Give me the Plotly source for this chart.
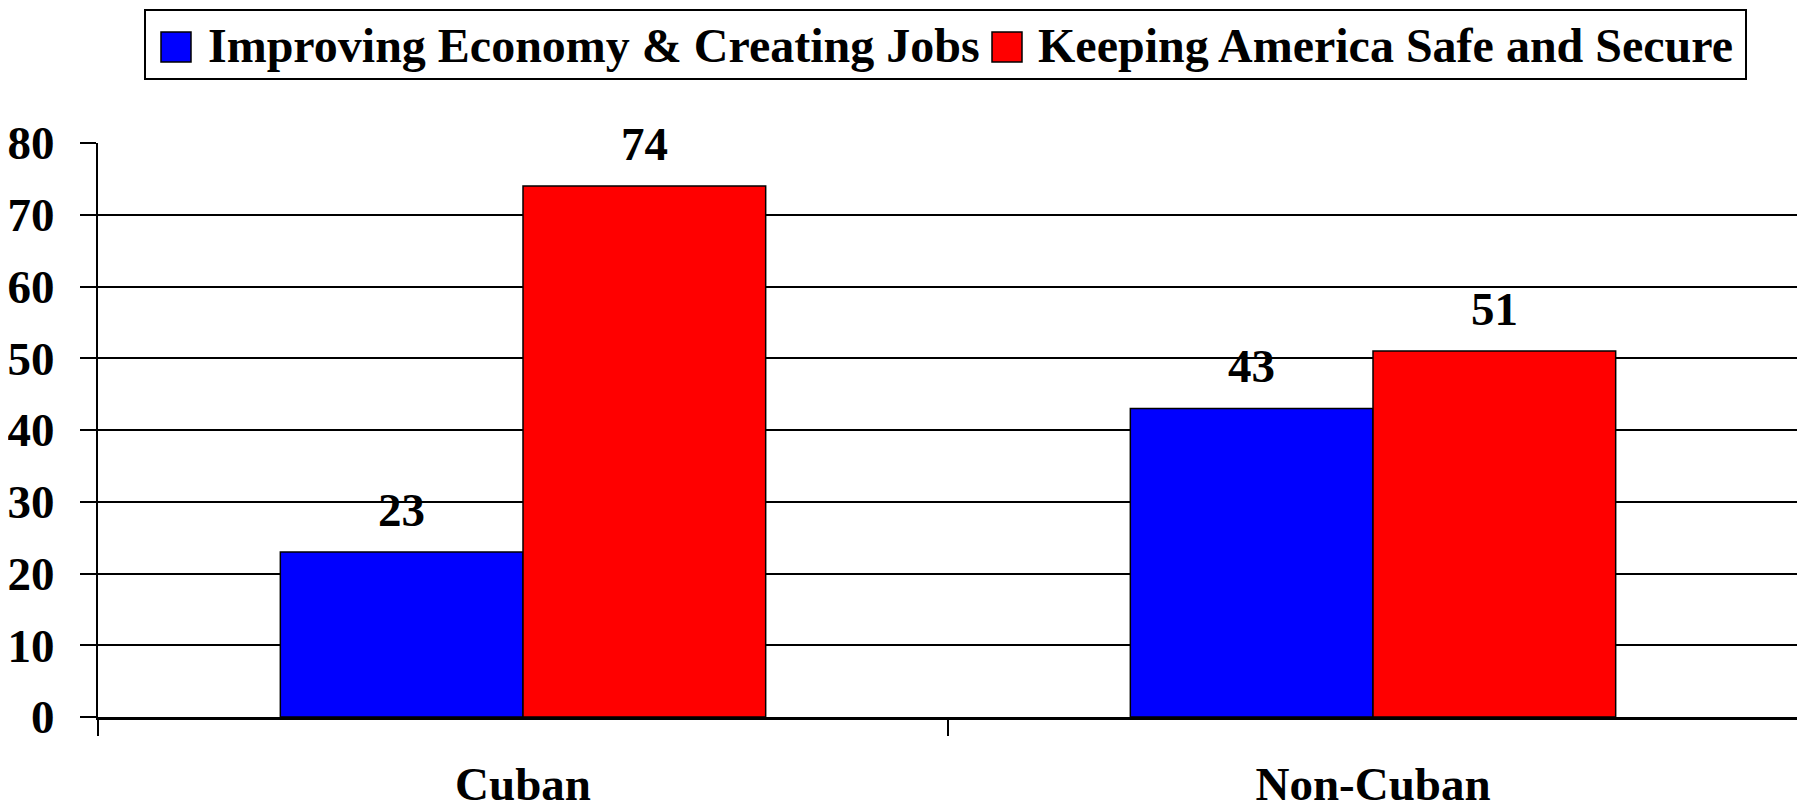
import plotly.graph_objects as go

# ---- data ----
categories = ["Cuban", "Non-Cuban"]
series_names = ["Improving Economy & Creating Jobs", "Keeping America Safe and Secure"]
economy_jobs = [23, 43]
safe_secure = [74, 51]
y_ticks = [0, 10, 20, 30, 40, 50, 60, 70, 80]

colors = ["#0000FF", "#FF0000"]
FONT = "Liberation Serif"
FS = 47
FS_LEG = 48

# the page body has an 8px margin, so the figure is drawn 8px smaller
BODY = 8
W, H = 1805 - BODY, 812 - BODY
ML, MR, MT, MB = 98 - BODY, 7, 143 - BODY, 95
PW = W - ML - MR
PH = H - MT - MB


def px_x(px):
    """page pixel x -> paper coordinate"""
    return (px - BODY - ML) / PW


def px_y(py):
    """page pixel y -> paper coordinate"""
    return (H - MB - (py - BODY)) / PH


BARGAP = 0.429
half = (1 - BARGAP) / 4  # offset of each bar centre from the category centre

fig = go.Figure()
for name, vals, col in zip(series_names, [economy_jobs, safe_secure], colors):
    fig.add_trace(go.Bar(
        name=name, x=categories, y=vals,
        marker=dict(color=col, line=dict(color="black", width=1.5)),
        showlegend=False,
    ))

# value labels above bars
for s, vals in enumerate([economy_jobs, safe_secure]):
    off = -half if s == 0 else half
    for i, v in enumerate(vals):
        fig.add_annotation(
            x=i + off, y=v, xref="x", yref="y", text=str(v), showarrow=False,
            yanchor="middle", xanchor="center", yshift=42,
            font=dict(family=FONT, size=FS, color="black", weight="bold"),
        )

# legend (drawn manually to get the large swatches)
fig.add_shape(type="rect", xref="paper", yref="paper",
              x0=px_x(145), x1=px_x(1746), y0=px_y(79), y1=px_y(10),
              line=dict(color="black", width=2), fillcolor="white")
leg_sw = [161, 992]
leg_tx = [206, 1036]
for name, col, sx, tx in zip(series_names, colors, leg_sw, leg_tx):
    fig.add_shape(type="rect", xref="paper", yref="paper",
                  x0=px_x(sx), x1=px_x(sx + 30), y0=px_y(62), y1=px_y(32),
                  line=dict(color="black", width=1.5), fillcolor=col)
    fig.add_annotation(
        x=px_x(tx), y=px_y(46), xref="paper", yref="paper", text=name,
        showarrow=False, xanchor="left", yanchor="middle",
        font=dict(family=FONT, size=FS_LEG, color="black", weight="bold"),
    )

fig.update_layout(
    width=W, height=H,
    margin=dict(l=ML, r=MR, t=MT, b=MB, autoexpand=False),
    paper_bgcolor="white", plot_bgcolor="white",
    barmode="group", bargap=BARGAP, bargroupgap=0,
    font=dict(family=FONT, size=FS, color="black", weight="bold"),
    showlegend=False,
)
fig.update_xaxes(
    type="category", tickson="boundaries", ticks="outside", ticklen=16,
    tickwidth=2, tickcolor="black", showline=True, linewidth=3,
    linecolor="black", showgrid=False, ticklabelstandoff=24, automargin=False,
    tickfont=dict(family=FONT, size=FS, color="black", weight="bold"),
)
fig.update_yaxes(
    range=[0, 80], tickvals=y_ticks, ticks="outside", ticklen=16,
    tickwidth=2, tickcolor="black", showline=True, mirror=True,
    linewidth=2, linecolor="black", showgrid=True, gridcolor="black",
    gridwidth=2, zeroline=False, ticklabelstandoff=16, automargin=False,
    tickfont=dict(family=FONT, size=FS, color="black", weight="bold"),
)

fig.write_html("out.html")
